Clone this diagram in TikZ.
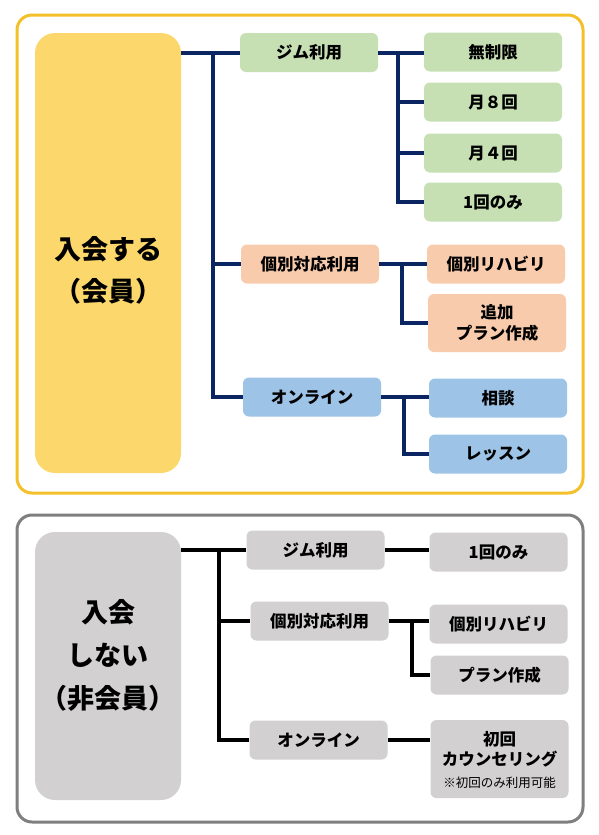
\documentclass[tikz,border=0pt]{standalone}
\usepackage{fontspec}
\setmainfont{Noto Sans CJK JP}
\definecolor{navy}{HTML}{0B2462}
\definecolor{gold}{HTML}{FCD86C}
\definecolor{goldframe}{HTML}{F4C02A}
\definecolor{mint}{HTML}{C6E0B4}
\definecolor{peach}{HTML}{F8CBAD}
\definecolor{sky}{HTML}{9DC3E6}
\definecolor{ash}{HTML}{D2D0D0}
\definecolor{ashframe}{HTML}{7F7F7F}
\begin{document}
\begin{tikzpicture}[x=1pt,y=-1pt,
  box/.style={rounded corners=6pt,minimum width=138pt,minimum height=39pt,inner sep=0pt,align=center,font=\fontsize{16.5}{21}\selectfont\bfseries},
  big/.style={rounded corners=20pt,minimum width=146pt,inner sep=0pt},
  bigtext/.style={align=center,font=\fontsize{27}{42}\selectfont\bfseries},
  navyline/.style={draw=navy,line width=4pt},
  blackline/.style={draw=black,line width=4pt}]
\useasboundingbox[fill=white](0,0) rectangle (599,835);

\begin{scope}
\draw[goldframe,line width=3pt,rounded corners=15pt](17,15) rectangle (583,493);
\node[big,fill=gold,minimum height=440pt](member) at (108,253) {};
\node[bigtext](memberlabel) at (108,270) {入会する\\（会員）};
\node[box,fill=mint](gym) at (309,52.5) {ジム利用};
\node[box,fill=mint](gymA) at (493,52) {無制限};
\node[box,fill=mint](gymB) at (493,102) {月８回};
\node[box,fill=mint](gymC) at (493,153) {月４回};
\node[box,fill=mint](gymD) at (493,202) {1回のみ};
\node[box,fill=peach](pers) at (310,264) {個別対応利用};
\node[box,fill=peach](persA) at (496,264) {個別リハビリ};
\node[box,fill=peach,minimum height=58pt](persB) at (497,323) {追加\\プラン作成};
\node[box,fill=sky](onl) at (312,397) {オンライン};
\node[box,fill=sky](onlA) at (498,398) {相談};
\node[box,fill=sky](onlB) at (498,454) {レッスン};
\coordinate(trunk) at (213,0);
\coordinate(gymtrunk) at (398,0);
\coordinate(perstrunk) at (402,0);
\coordinate(onltrunk) at (404,0);
\draw[navyline](member.east |- gym)--(gym.west);
\draw[navyline](trunk |- gym)--(trunk |- onl)--(onl.west);
\draw[navyline](trunk |- pers)--(pers.west);
\draw[navyline](gym.east)--(gym.east -| gymA.west);
\draw[navyline](gymtrunk |- gym)--(gymtrunk |- gymD)--(gymD.west);
\draw[navyline](gymtrunk |- gymB)--(gymB.west);
\draw[navyline](gymtrunk |- gymC)--(gymC.west);
\draw[navyline](pers.east)--(pers.east -| persA.west);
\draw[navyline](perstrunk |- pers)--(perstrunk |- persB)--(persB.west);
\draw[navyline](onl.east)--(onl.east -| onlA.west);
\draw[navyline](onltrunk |- onl)--(onltrunk |- onlB)--(onlB.west);
\end{scope}

\begin{scope}
\draw[ashframe,line width=3pt,rounded corners=15pt](17,515) rectangle (583,822);
\node[big,fill=ash,minimum height=268pt](guest) at (108,666) {};
\node[bigtext,font=\fontsize{27}{43}\selectfont\bfseries](guestlabel) at (108,655) {入会\\しない\\（非会員）};
\node[box,fill=ash](gym2) at (315.5,550) {ジム利用};
\node[box,fill=ash](gym2A) at (498.5,552) {1回のみ};
\node[box,fill=ash](pers2) at (319.5,621) {個別対応利用};
\node[box,fill=ash](pers2A) at (498.5,624) {個別リハビリ};
\node[box,fill=ash](pers2B) at (499.5,675) {プラン作成};
\node[box,fill=ash](onl2) at (318.5,740) {オンライン};
\node[box,fill=ash,minimum height=78pt](onl2A) at (499.5,759) {};
\node[align=center,font=\fontsize{16.5}{20}\selectfont\bfseries](onl2Atext) at (499.5,749) {初回\\カウンセリング};
\node[font=\fontsize{12.5}{14}\selectfont](onl2Anote) at (499.5,783) {※初回のみ利用可能};
\coordinate(trunk2) at (219,0);
\coordinate(perstrunk2) at (412,0);
\draw[blackline](guest.east |- gym2)--(gym2.west);
\draw[blackline](trunk2 |- gym2)--(trunk2 |- onl2)--(onl2.west);
\draw[blackline](trunk2 |- pers2)--(pers2.west);
\draw[blackline](gym2.east)--(gym2.east -| gym2A.west);
\draw[blackline](pers2.east)--(pers2.east -| pers2A.west);
\draw[blackline](perstrunk2 |- pers2)--(perstrunk2 |- pers2B)--(pers2B.west);
\draw[blackline](onl2.east)--(onl2.east -| onl2A.west);
\end{scope}
\end{tikzpicture}
\end{document}
